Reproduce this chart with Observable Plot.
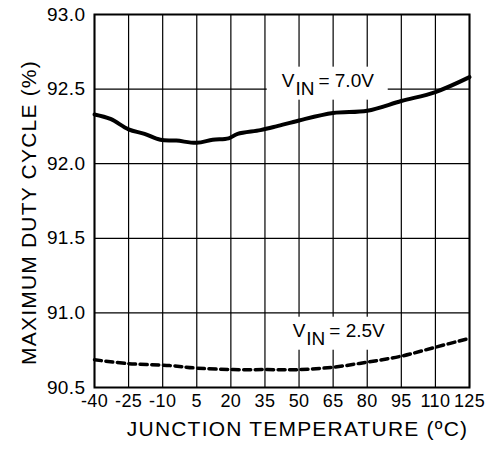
<!DOCTYPE html>
<html>
<head>
<meta charset="utf-8">
<script src="https://cdn.jsdelivr.net/npm/d3@7"></script>
<script src="https://cdn.jsdelivr.net/npm/@observablehq/plot@0.6"></script>
<style>
  html, body { margin: 0; padding: 0; background: white; }
</style>
</head>
<body>
<div id="chart"></div>
<script>
// Temperature ticks (ºC) and duty cycle ticks (%)
const xTicks = [-40, -25, -10, 5, 20, 35, 50, 65, 80, 95, 110, 125];
const yTicks = [90.5, 91.0, 91.5, 92.0, 92.5, 93.0];

// VIN = 7.0V (solid)
const temp7 = [-40, -33, -25, -18, -11, -4, 5, 12, 19, 23, 33, 40, 50, 65, 80, 95, 110, 125];
const duty7 = [92.33, 92.30, 92.23, 92.20, 92.16, 92.155, 92.14, 92.16, 92.17, 92.20, 92.225, 92.25, 92.29, 92.34, 92.355, 92.42, 92.48, 92.58];

// VIN = 2.5V (dashed)
const temp25 = [-40, -25, -7, 5, 21, 36, 50, 65, 80, 95, 110, 125];
const duty25 = [90.686, 90.66, 90.647, 90.63, 90.62, 90.62, 90.62, 90.636, 90.67, 90.71, 90.77, 90.83];

// Curve labels
const labelText = ["7.0V", "2.5V"];
const labelX = [42.6, 47.4];
const labelY = [92.513, 90.837];

const xTitle = "JUNCTION TEMPERATURE (ºC)";
const yTitle = "MAXIMUM DUTY CYCLE (%)";

const font = "'Liberation Sans', Arial, Helvetica, sans-serif";

const s7 = temp7.map((t, i) => ({temp: t, duty: duty7[i]}));
const s25 = temp25.map((t, i) => ({temp: t, duty: duty25[i]}));

const chart = Plot.plot({
  width: 496,
  height: 458,
  marginLeft: 94,
  marginRight: 27,
  marginTop: 14,
  marginBottom: 71,
  x: {domain: [-40, 125]},
  y: {domain: [90.5, 93]},
  style: {fontFamily: font, fontSize: "18px", color: "black", background: "white"},
  marks: [
    Plot.ruleX(xTicks, {stroke: "black", strokeWidth: 1.2}),
    Plot.ruleY(yTicks, {stroke: "black", strokeWidth: 1.2}),
    Plot.line(s7, {x: "temp", y: "duty", stroke: "black", strokeWidth: 4, curve: "catmull-rom"}),
    Plot.line(s25, {x: "temp", y: "duty", stroke: "black", strokeWidth: 3.5, strokeDasharray: "7,4.5", curve: "catmull-rom"}),
    Plot.frame({stroke: "black", strokeWidth: 2}),
    Plot.axisX(xTicks, {tickSize: 0, tickPadding: 7, fontSize: 18, label: null, tickFormat: d => String(d)}),
    Plot.axisY(yTicks, {tickSize: 0, tickPadding: 9, fontSize: 19, label: null, tickFormat: d => d.toFixed(1)}),
    Plot.text([xTitle], {frameAnchor: "bottom", textAnchor: "middle", lineAnchor: "bottom", dx: 15.5, dy: 48, fontSize: 21, fill: "black"}),
    Plot.text([yTitle], {frameAnchor: "left", textAnchor: "middle", lineAnchor: "bottom", rotate: -90, dx: -59, dy: 11.5, fontSize: 21, fill: "black"})
  ]
});

document.getElementById("chart").appendChild(chart);

const svg = d3.select(chart);
svg.selectAll('g[aria-label="text"] text').style("letter-spacing", "1.2px");
svg.selectAll('g[aria-label="x-axis tick label"] text').style("letter-spacing", "0.4px");
svg.selectAll('g[aria-label="y-axis tick label"] text').style("letter-spacing", "0.4px");

const xs = chart.scale("x"), ys = chart.scale("y");
const firstLine = svg.select('g[aria-label="line"]').node();
labelText.forEach((v, i) => {
  const px = xs.apply(labelX[i]), py = ys.apply(labelY[i]);
  const r = document.createElementNS("http://www.w3.org/2000/svg", "rect");
  r.setAttribute("x", px - 15); r.setAttribute("y", py - 20);
  r.setAttribute("width", 121); r.setAttribute("height", 33);
  r.setAttribute("fill", "white");
  chart.insertBefore(r, firstLine);
  const t = svg.append("text")
    .attr("x", px).attr("y", py)
    .attr("text-anchor", "start")
    .attr("font-family", font).attr("font-size", 19).attr("fill", "black");
  t.append("tspan").text("V");
  t.append("tspan").attr("dy", 8).attr("dx", 1).text("IN");
  t.append("tspan").attr("dy", -8).attr("dx", 4).text("= " + v);
});
</script>
</body>
</html>
